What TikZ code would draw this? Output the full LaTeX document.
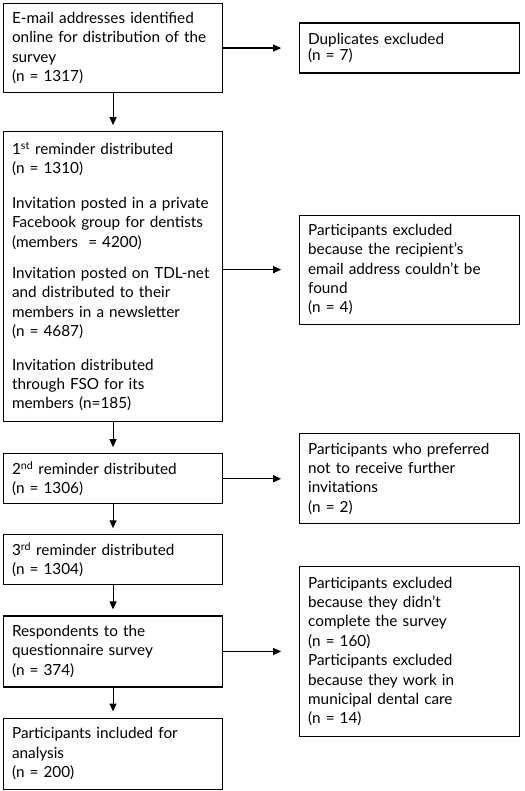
\documentclass[tikz,border=0pt]{standalone}
\usepackage{fontspec}
\setmainfont{Lato}
\usepackage{tikz}
\usetikzlibrary{positioning,arrows.meta}
\hyphenpenalty=10000
\exhyphenpenalty=10000
\tikzset{
  box/.style={draw, line width=1.1pt, align=left, inner xsep=8.5pt, inner ysep=4pt,
    text width=#1, font=\fontsize{15.3}{19.4}\selectfont},
  box/.default=202pt,
  flow/.style={-{Triangle[length=8pt, width=7pt]}, line width=1.1pt},
}

\begin{document}
\begin{tikzpicture}[node distance=30pt and 76pt]
  \useasboundingbox (0,0) rectangle (524pt,-791pt);
  % main column
  \node[box, minimum height=89pt, anchor=north west] (emails) at (3pt,-3pt)
    {E-mail addresses identified\\online for distribution of the\\survey\\(n = 1317)};
  \node[box, below=38pt of emails, minimum height=290pt] (rem1)
    {1\textsuperscript{st} reminder distributed\\(n = 1310)\\[15pt]
     Invitation posted in a private\\Facebook group for dentists\\(members \ = 4200)\\[12pt]
     Invitation posted on TDL-net\\and distributed to their\\members in a newsletter\\(n = 4687)\\[14pt]
     Invitation distributed\\through FSO for its\\members (n=185)};
  \node[box, below=31pt of rem1, minimum height=50pt] (rem2)
    {2\textsuperscript{nd} reminder distributed\\(n = 1306)};
  \node[box, below=of rem2, minimum height=50pt] (rem3)
    {3\textsuperscript{rd} reminder distributed\\(n = 1304)};
  \node[box, below=of rem3, minimum height=71pt] (resp)
    {Respondents to the\\questionnaire survey\\(n = 374)};
  \node[box, below=of resp, minimum height=71pt] (incl)
    {Participants included for\\analysis\\(n = 200)};
  % exclusions
  \node[box=203pt, right=of emails, minimum height=50pt,
    font=\fontsize{15.3}{15.5}\selectfont] (dupl)
    {Duplicates excluded\\(n = 7)};
  \node[box=203pt, right=of rem1, yshift=7pt, minimum height=109pt] (notfound)
    {Participants excluded\\because the recipient’s\\email address couldn’t be\\found\\(n = 4)};
  \node[box=203pt, right=of rem2, minimum height=90pt] (optout)
    {Participants who preferred\\not to receive further\\invitations\\(n = 2)};
  \node[box=203pt, right=of resp, minimum height=170pt] (excl)
    {Participants excluded\\because they didn’t\\complete the survey\\(n = 160)\\
     Participants excluded\\because they work in\\municipal dental care\\(n = 14)};
  % arrows
  \draw[flow, shorten >=6pt] (emails) -- (rem1);
  \draw[flow, shorten >=6pt] (rem1) -- (rem2);
  \draw[flow, shorten >=6pt] (rem2) -- (rem3);
  \draw[flow, shorten >=6pt] (rem3) -- (resp);
  \draw[flow, shorten >=6pt] (resp) -- (incl);
  \draw[flow, shorten >=18pt] (emails) -- (dupl);
  \draw[flow, shorten >=18pt] (rem1.east |- notfound.west) -- (notfound.west);
  \draw[flow, shorten >=18pt] (rem2) -- (optout);
  \draw[flow, shorten >=18pt] (resp) -- (excl);
\end{tikzpicture}
\end{document}
